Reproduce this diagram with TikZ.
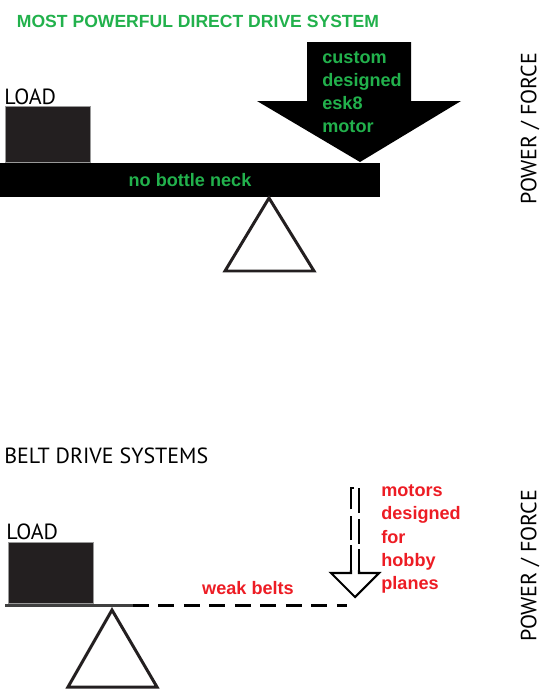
\documentclass[tikz,border=0pt]{standalone}
\usepackage{fontspec}
\usepackage{xcolor}
\usetikzlibrary{positioning, calc}
\newfontfamily\boldlabel{Liberation Sans}[BoldFont={Liberation Sans Bold}]
\newfontfamily\plainlabel{PT Sans}
\definecolor{PaintGreen}{RGB}{34,177,76}
\definecolor{PaintRed}{RGB}{237,28,36}
\definecolor{LoadGrey}{RGB}{35,31,32}

\begin{document}
\begin{tikzpicture}[x=0.02cm, y=-0.02cm,
          load/.style={rectangle, fill=LoadGrey, draw=gray!80, line width=0.5pt,
                       minimum width=1.7cm, inner sep=0pt},
          caption/.style={font=\plainlabel\fontsize{12.5}{14}\selectfont, inner sep=0pt},
          greentxt/.style={font=\boldlabel\bfseries\fontsize{10.3}{13.1}\selectfont,
                           text=PaintGreen, inner sep=0pt, align=left},
          redtxt/.style={font=\boldlabel\bfseries\fontsize{10.3}{13.2}\selectfont,
                         text=PaintRed, inner sep=0pt, align=left},
          fulcrum/.style={draw=LoadGrey, line width=1.7pt, line join=miter}
        ]
        \useasboundingbox (0,0) rectangle (557,697);

        % Direct drive
        \node[greentxt, font=\boldlabel\bfseries\fontsize{10}{12}\selectfont] (title1)
              at (198,21) {MOST POWERFUL DIRECT DRIVE SYSTEM};
        \node[load, minimum height=1.12cm, anchor=south west] (load1) at (5,163) {};
        \node[caption, anchor=south west] (loadtxt1) at (4,105) {LOAD};
        \node[rectangle, fill=black, minimum width=7.6cm, minimum height=0.68cm,
              inner sep=0pt, text=PaintGreen,
              font=\boldlabel\bfseries\fontsize{10.3}{13}\selectfont] (beam1) at (190,180)
              {no bottle neck};
        \fill[black] (307,42) -- (411,42) -- (411,101) -- (461,101) -- (360,162)
              -- (257,101) -- (307,101) -- cycle;
        \node[greentxt, anchor=west] (motor1) at (322,92)
              {custom\\designed\\esk8\\motor};
        \draw[fulcrum] (225,271) -- (269,198) -- (314,271) -- cycle;
        \node[caption, rotate=90] (force1) at (530,129) {POWER / FORCE};

        % Belt drive
        \node[caption, anchor=south west] (title2) at (4,464) {BELT DRIVE SYSTEMS};
        \node[load, minimum height=1.22cm, anchor=south west] (load2) at (8,604) {};
        \node[caption, anchor=south west] (loadtxt2) at (6,540) {LOAD};
        \coordinate (beamL) at (5,605);
        \coordinate (beamM) at (133,605);
        \coordinate (beamR) at (347,605);
        \draw[line width=1.7pt, draw=black!75] (beamL) -- (beamM);
        \draw[line width=1.7pt, dash pattern=on 9pt off 5.5pt] (beamM) -- (beamR);
        \node[redtxt] (belts) at (248,588) {weak belts};
        \draw[fulcrum] (68,687) -- (112,610) -- (157,687) -- cycle;
        % hollow arrow, dashed shaft
        \draw[line width=1.2pt, line join=miter] (351,570) -- (351,573) -- (331,573)
              -- (355,597) -- (379,573) -- (359,573) -- (359,570);
        \draw[line width=1.2pt, line join=miter, dash pattern=on 14pt off 3pt on 14pt off 3.5pt]
              (351,570) -- (351,488) -- (359,488) -- (359,570);
        \node[redtxt, anchor=west] (hobby) at (381,539)
              {motors\\designed\\for\\hobby\\planes};
        \node[caption, rotate=90] (force2) at (530,566) {POWER / FORCE};
      \end{tikzpicture}
\end{document}
